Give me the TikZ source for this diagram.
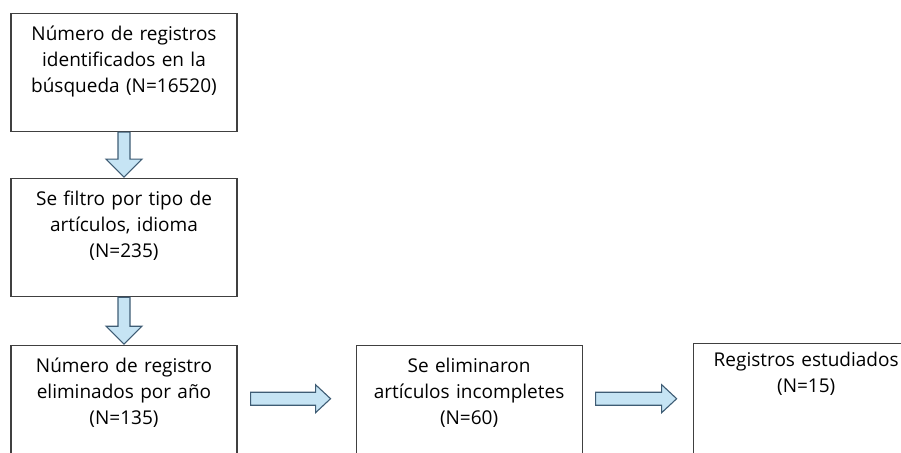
\documentclass[tikz,border=0pt]{standalone}
\usepackage{fontspec}
\setmainfont{Open Sans}
\usetikzlibrary{calc}
\usetikzlibrary{positioning}
\definecolor{arrowfill}{RGB}{198,228,244}
\definecolor{arrowline}{RGB}{62,92,116}
\definecolor{boxline}{RGB}{64,64,64}
\tikzset{
	stepbox/.style={rectangle, draw=boxline, line width=1.1pt, align=center, text width=226pt, inner sep=0pt, text height=27pt, text depth=91pt, font=\fontsize{19}{26}\selectfont},
	blockarrow/.style={draw=arrowline, fill=arrowfill, line width=1.1pt, line join=miter}
}

\begin{document}
\begin{tikzpicture}[x=1pt, y=-1pt]
\useasboundingbox (0,0) rectangle (901,452);
\clip (0,0) rectangle (901,452);

\node[stepbox, anchor=north] (found) at (124,13) {Número de registros\\identificados en la\\búsqueda (N=16520)};

\node[stepbox, below = 46pt of found] (filtered) {Se filtro por tipo de\\artículos, idioma\\(N=235)};

\node[stepbox, below = 48pt of filtered] (removedyear) {Número de registro\\eliminados por año\\(N=135)};

\node[stepbox, right = 118pt of removedyear] (incomplete) {Se eliminaron\\artículos incompletes\\(N=60)};

\node[stepbox, right = 110pt of incomplete, yshift=2pt, text height=23pt, text depth=95pt] (studied) {Registros estudiados\\(N=15)};

\coordinate (gap1s) at ($(removedyear.north east)+(13,53.5)$);
\coordinate (gap1e) at ($(incomplete.north west)+(-25,53.5)$);
\coordinate (gap2s) at ($(incomplete.north east)+(13,53.5)$);
\coordinate (gap2e) at ($(incomplete.north east)+(94,53.5)$);

\draw [blockarrow] ($(found.south)+(-6,0)$) |- ($(filtered.north)+(-18,-19)$) -- ($(filtered.north)+(0,-1)$) -- ($(filtered.north)+(18,-19)$) -| ($(found.south)+(6,0)$) -- cycle;
\draw [blockarrow] ($(filtered.south)+(-6,0)$) |- ($(removedyear.north)+(-18,-19)$) -- ($(removedyear.north)+(0,-1)$) -- ($(removedyear.north)+(18,-19)$) -| ($(filtered.south)+(6,0)$) -- cycle;
\draw [blockarrow] ($(gap1s)+(0,-6.5)$) -| ($(gap1e)+(-15,-14)$) -- (gap1e) -- ($(gap1e)+(-15,14)$) |- ($(gap1s)+(0,6.5)$) -- cycle;
\draw [blockarrow] ($(gap2s)+(0,-6.5)$) -| ($(gap2e)+(-15,-14)$) -- (gap2e) -- ($(gap2e)+(-15,14)$) |- ($(gap2s)+(0,6.5)$) -- cycle;

\end{tikzpicture}
\end{document}
